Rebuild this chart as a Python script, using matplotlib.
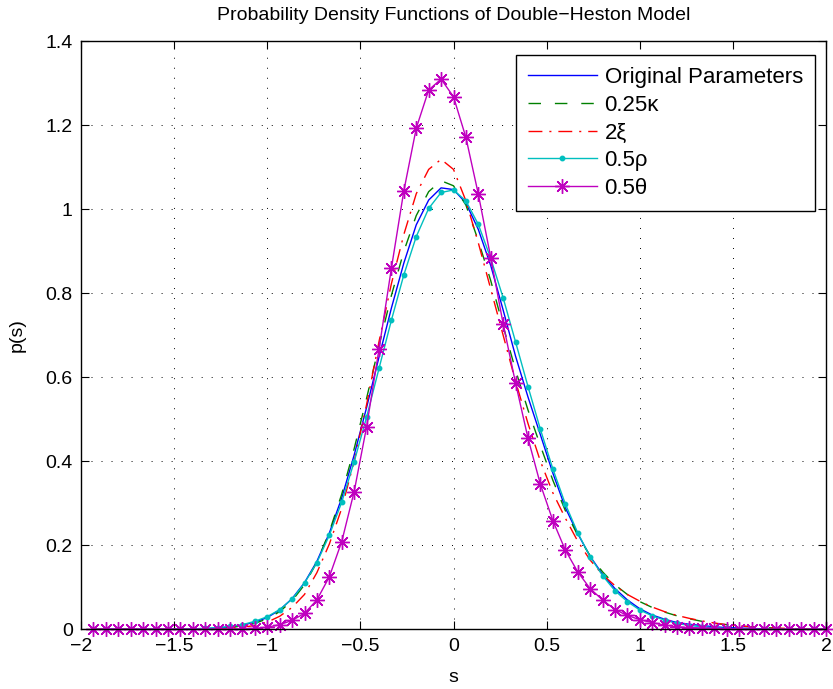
import numpy as np
import matplotlib.pyplot as plt
from matplotlib.ticker import FuncFormatter

plt.rcParams['font.family'] = ['Liberation Sans', 'DejaVu Sans']

# grid of s values (step 1/15)
s = np.arange(-29, 31) / 15

p_orig = [0, 0, 0, 0, 0, 0, 0, 0.0005,
          0.001, 0.002, 0.003, 0.006, 0.010, 0.017, 0.028, 0.046, 0.073, 0.111,
          0.162, 0.229, 0.313, 0.415, 0.528, 0.648, 0.765, 0.872, 0.963, 1.022,
          1.051, 1.047, 1.015, 0.952, 0.866, 0.760, 0.650, 0.553, 0.463, 0.372,
          0.290, 0.228, 0.174, 0.131, 0.097, 0.070, 0.049, 0.034, 0.024, 0.016,
          0.012, 0.009, 0.006, 0.004, 0.003, 0.002, 0.001,
          0, 0, 0, 0, 0]

p_kappa = [0, 0, 0, 0, 0, 0, 0, 0, 0,
           0.001, 0.002, 0.004, 0.008, 0.014, 0.025, 0.042, 0.068, 0.106, 0.160,
           0.232, 0.322, 0.430, 0.550, 0.675, 0.795, 0.900, 0.985, 1.042, 1.068,
           1.056, 1.010, 0.925, 0.830, 0.722, 0.617, 0.522, 0.437, 0.355, 0.283,
           0.224, 0.175, 0.137, 0.106, 0.083, 0.066, 0.052, 0.041, 0.032, 0.025,
           0.019, 0.014, 0.011, 0.008, 0.006, 0.004, 0.003, 0.002, 0.001,
           0, 0]

p_xi = [0, 0, 0, 0, 0, 0, 0, 0, 0, 0,
        0.001, 0.002, 0.005, 0.009, 0.017, 0.031, 0.052, 0.083, 0.135, 0.203,
        0.288, 0.400, 0.535, 0.685, 0.823, 0.940, 1.037, 1.095, 1.119, 1.095,
        1.020, 0.920, 0.810, 0.700, 0.590, 0.490, 0.400, 0.325, 0.265, 0.210,
        0.165, 0.130, 0.104, 0.083, 0.067, 0.053, 0.042, 0.033, 0.026, 0.020,
        0.015, 0.011, 0.008, 0.006, 0.004, 0.003, 0.002, 0.001,
        0, 0]

p_rho = [0, 0, 0, 0, 0, 0, 0, 0.0005,
         0.001, 0.002, 0.004, 0.007, 0.011, 0.019, 0.030, 0.047, 0.072, 0.110,
         0.159, 0.224, 0.303, 0.399, 0.505, 0.621, 0.736, 0.844, 0.935, 1.002,
         1.040, 1.046, 1.020, 0.964, 0.883, 0.789, 0.684, 0.578, 0.476, 0.382,
         0.299, 0.230, 0.173, 0.128, 0.092, 0.066, 0.046, 0.032, 0.022, 0.014,
         0.009, 0.006, 0.004, 0.002, 0.001,
         0, 0, 0, 0, 0, 0, 0]

p_theta = [0, 0, 0, 0, 0, 0, 0, 0, 0, 0, 0, 0.0005,
           0.001, 0.002, 0.005, 0.011, 0.021, 0.038, 0.070, 0.125, 0.209, 0.328,
           0.482, 0.667, 0.860, 1.044, 1.193, 1.284, 1.310, 1.268, 1.171, 1.036,
           0.885, 0.727, 0.586, 0.455, 0.345, 0.259, 0.189, 0.137, 0.097, 0.070,
           0.047, 0.033, 0.023, 0.016, 0.010, 0.006, 0.004, 0.003, 0.002, 0.001,
           0, 0, 0, 0, 0, 0, 0, 0]

fig = plt.figure(figsize=(8.33, 6.89), dpi=100)
ax = fig.add_axes([81 / 833, 1 - 629.3 / 689, 745 / 833, 588 / 689])

ax.plot(s, p_orig, color=(0, 0, 1), lw=1.0, label='Original Parameters')
ax.plot(s, p_kappa, color=(0, 0.5, 0), lw=1.0, ls=(0, (9, 10)), label='0.25κ')
ax.plot(s, p_xi, color=(1, 0, 0), lw=1.0, ls=(0, (10, 5, 1.5, 5)), label='2ξ')
ax.plot(s, p_rho, color=(0, 0.75, 0.75), lw=1.0, marker='o', ms=3.2,
        clip_on=False, label='0.5ρ')
ax.plot(s, p_theta, color=(0.75, 0, 0.75), lw=1.0, marker=(8, 2, 0), ms=10.5,
        mew=1.0, clip_on=False, label='0.5θ')

ax.set_xlim(-2, 2)
ax.set_ylim(0, 1.4)
ax.set_xticks(np.arange(-2, 2.01, 0.5))
ax.set_yticks(np.arange(0, 1.41, 0.2))
fmt = FuncFormatter(lambda v, pos: ('%g' % round(v, 2)).replace('-', '\u2212'))
ax.xaxis.set_major_formatter(fmt)
ax.yaxis.set_major_formatter(fmt)
ax.tick_params(direction='in', top=True, right=True, length=6, width=0.8,
               labelsize=14, pad=6)
for sp in ax.spines.values():
    sp.set_linewidth(1.0)

ax.grid(True, color='k', lw=0.7, ls=(0, (1, 9.3)))

ax.set_title('Probability Density Functions of Double\u2212Heston Model',
             fontsize=14, pad=15)
ax.set_xlabel('s', fontsize=14, labelpad=10)
ax.set_ylabel('p(s)', fontsize=14, labelpad=14)

leg = ax.legend(loc='upper right', bbox_to_anchor=(734 / 745, 1 - 13.7 / 588),
                borderaxespad=0, fontsize=16, fancybox=False, framealpha=1,
                edgecolor='k', handlelength=3.1, handletextpad=0.35,
                labelspacing=0.3, borderpad=0.55, numpoints=1)
leg.get_frame().set_linewidth(1.0)

fig.savefig('out.png', dpi=100)
